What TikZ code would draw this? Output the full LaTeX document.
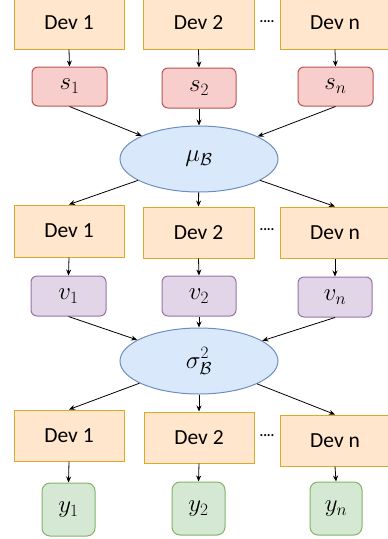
\documentclass[tikz,border=0pt]{standalone}
\usepackage{fontspec}
\setmainfont{Carlito}
\usetikzlibrary{shapes.geometric,arrows.meta}
\definecolor{devfill}{HTML}{FFE6CC}\definecolor{devdraw}{HTML}{D79B00}
\definecolor{sfill}{HTML}{F8CECC}\definecolor{sdraw}{HTML}{B85450}
\definecolor{vfill}{HTML}{E1D5E7}\definecolor{vdraw}{HTML}{9673A6}
\definecolor{efill}{HTML}{DAE8FC}\definecolor{edraw}{HTML}{6C8EBF}
\definecolor{yfill}{HTML}{D5E8D4}\definecolor{ydraw}{HTML}{82B366}
\tikzset{
  devbox/.style={draw=devdraw!85!white,fill=devfill,line width=1pt,minimum width=110pt,minimum height=51pt,inner sep=0pt,font=\fontsize{21.5}{24}\selectfont},
  sbox/.style={draw=sdraw,fill=sfill,line width=1pt,rounded corners=6pt,minimum width=75pt,minimum height=39pt,inner sep=0pt,font=\fontsize{26}{28}\selectfont},
  vbox/.style={draw=vdraw,fill=vfill,line width=1pt,rounded corners=6pt,minimum width=74pt,minimum height=40pt,inner sep=0pt,font=\fontsize{26}{28}\selectfont},
  ybox/.style={draw=ydraw,fill=yfill,line width=1pt,rounded corners=8pt,minimum width=53pt,minimum height=53pt,inner sep=0pt,font=\fontsize{26}{28}\selectfont},
  ebox/.style={ellipse,draw=edraw,fill=efill,line width=1pt,minimum width=158pt,minimum height=66pt,inner sep=0pt,font=\fontsize{23}{26}\selectfont},
  dotslbl/.style={font=\fontsize{14}{16}\selectfont\bfseries,inner sep=0pt},
  conn/.style={-{Stealth[length=6pt,width=5pt]},line width=0.8pt,black},
}
\begin{document}
\begin{tikzpicture}[x=1pt,y=-1pt]
\useasboundingbox (0,0) rectangle (388,539);
% row 1
\node[devbox,minimum height=52pt] (d11) at (69,23) {Dev 1};
\node[devbox,minimum width=111pt,minimum height=52pt] (d12) at (198.5,23) {Dev 2};
\node[devbox,minimum height=52pt] (d1n) at (335,23) {Dev n};
\node[dotslbl] (dots1) at (267,22) {....};
\node[sbox] (s1) at (69.5,86.5) {$s_1$};
\node[sbox,minimum width=74pt,minimum height=40pt] (s2) at (199,88) {$s_2$};
\node[sbox] (sn) at (335.5,86.5) {$s_n$};
\node[ebox] (mu) at (199,159) {$\mu_{\mathcal{B}}$};
% row 2
\node[devbox,minimum height=52pt] (d21) at (69,231) {Dev 1};
\node[devbox,minimum width=111pt] (d22) at (198.5,232.5) {Dev 2};
\node[devbox] (d2n) at (335,232.5) {Dev n};
\node[dotslbl] (dots2) at (267,230) {....};
\node[vbox,minimum width=75pt] (v1) at (68.5,296) {$v_1$};
\node[vbox] (v2) at (199,296) {$v_2$};
\node[vbox] (vn) at (335,297) {$v_n$};
\node[ebox] (sig) at (199,361) {$\sigma^{2}_{\mathcal{B}}$};
% row 3
\node[devbox] (d31) at (69,435.5) {Dev 1};
\node[devbox] (d32) at (199,437.5) {Dev 2};
\node[devbox] (d3n) at (335,440.5) {Dev n};
\node[dotslbl] (dots3) at (267,436) {....};
\node[ybox] (y1) at (68.5,509.5) {$y_1$};
\node[ybox] (y2) at (198.5,508.5) {$y_2$};
\node[ybox,minimum width=52pt] (yn) at (336,508.5) {$y_n$};
% connectors
\draw[conn] (d11.south) -- (s1.north);
\draw[conn] (d12.south) -- (s2.north);
\draw[conn] (d1n.south) -- (sn.north);
\draw[conn] (s1.south) -- (mu);
\draw[conn] (s2.south) -- (mu);
\draw[conn] (sn.south) -- (mu);
\draw[conn] (mu) -- (d21.north);
\draw[conn] (mu) -- (d22.north);
\draw[conn] (mu) -- (d2n.north);
\draw[conn] (d21.south) -- (v1.north);
\draw[conn] (d22.south) -- (v2.north);
\draw[conn] (d2n.south) -- (vn.north);
\draw[conn] (v1.south) -- (sig);
\draw[conn] (v2.south) -- (sig);
\draw[conn] (vn.south) -- (sig);
\draw[conn] (sig) -- (d31.north);
\draw[conn] (sig) -- (d32.north);
\draw[conn] (sig) -- (d3n.north);
\draw[conn] (d31.south) -- (y1.north);
\draw[conn] (d32.south) -- (y2.north);
\draw[conn] (d3n.south) -- (yn.north);
\end{tikzpicture}
\end{document}
